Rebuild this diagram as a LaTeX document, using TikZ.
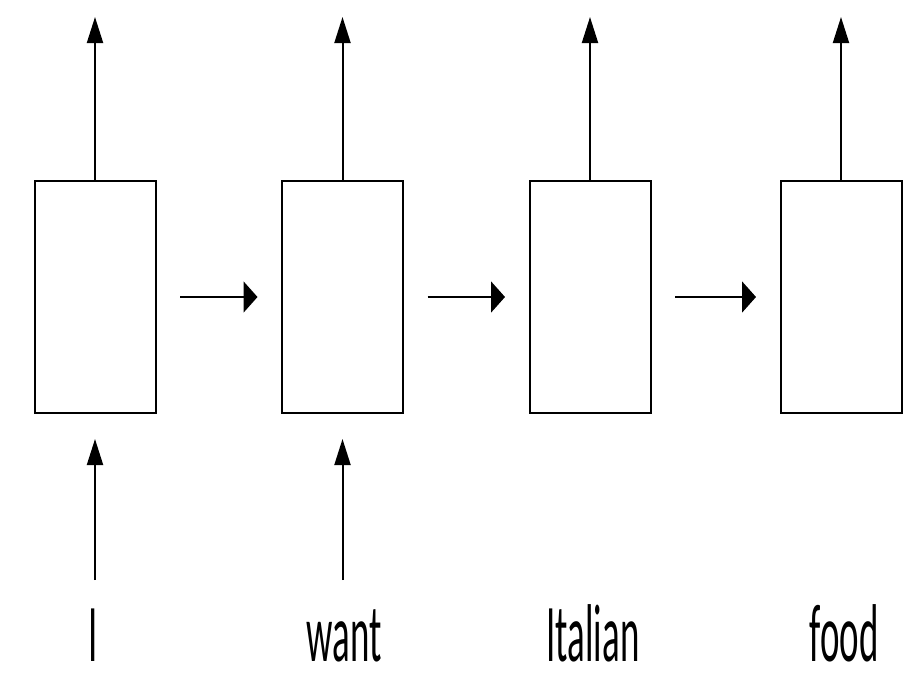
\documentclass[tikz,border=0pt]{standalone}
\usepackage{fontspec}
\newfontfamily\carlito{Carlito}
\usetikzlibrary{arrows.meta}
\tikzset{
  cell/.style={draw=black, line width=2pt, minimum width=121pt, minimum height=232pt, inner sep=0pt},
  uparrow/.style={line width=2pt, -{Triangle[length=26pt,width=16pt]}},
  rarrow/.style={line width=2pt, -{Triangle[length=14pt,width=31pt]}, shorten <=23.5pt, shorten >=23.5pt},
  word/.style={inner sep=0pt, anchor=base}
}
\newcommand{\wordtext}[1]{\scalebox{0.45}[1]{\carlito\fontsize{82}{90}\selectfont #1}}
\begin{document}
\begin{tikzpicture}[x=1pt,y=-1pt]
\useasboundingbox (0,0) rectangle (916,678);
\node[cell] (b1) at (95,297) {};
\node[cell] (b2) at (342.5,297) {};
\node[cell] (b3) at (590,297) {};
\node[cell] (b4) at (841,297) {};
\coordinate (t1) at (95,17);
\coordinate (t2) at (342.5,17);
\coordinate (t3) at (590,17);
\coordinate (t4) at (841,17);
\draw[uparrow] (b1.north) -- (t1);
\draw[uparrow] (b2.north) -- (t2);
\draw[uparrow] (b3.north) -- (t3);
\draw[uparrow] (b4.north) -- (t4);
\draw[rarrow] (b1.east) -- (b2.west);
\draw[rarrow] (b2.east) -- (b3.west);
\draw[rarrow] (b3.east) -- (b4.west);
\coordinate (s1) at (95,580);
\coordinate (s2) at (342.5,580);
\draw[uparrow, shorten >=25pt] (s1) -- (b1.south);
\draw[uparrow, shorten >=25pt] (s2) -- (b2.south);
\node[word] (w1) at (93,661) {\wordtext{I}};
\node[word] (w2) at (344,661) {\wordtext{want}};
\node[word] (w3) at (593,661) {\wordtext{Italian}};
\node[word] (w4) at (844,661) {\wordtext{food}};
\end{tikzpicture}
\end{document}
